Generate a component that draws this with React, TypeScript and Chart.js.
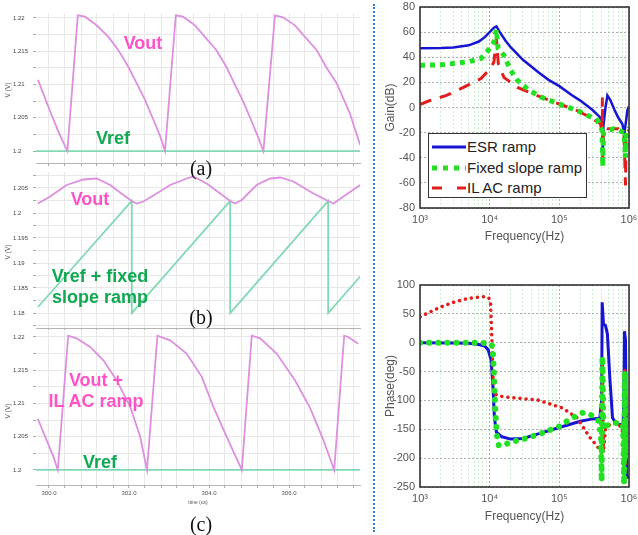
import React, { useEffect, useRef } from 'react';
import { Chart, registerables } from 'chart.js';

Chart.register(...registerables);

const FONT = "'Liberation Sans', Arial, Helvetica, sans-serif";
Chart.defaults.font.family = FONT;

// ---------------- Left: transient waveforms ----------------
const T_MIN = 299.675;
const T_MAX = 307.775;
const timeTickLabels = ['300.0', '302.0', '304.0', '306.0'];
const aYLabels = ['1.2', '1.205', '1.21', '1.215', '1.22'];
const bYLabels = ['1.18', '1.185', '1.19', '1.195', '1.2', '1.205'];
const cYLabels = ['1.2', '1.205', '1.21', '1.215', '1.22'];

// (a) ESR ramp
const aTime = [299.725, 300.0, 300.25, 300.46, 300.72, 300.9, 301.19, 301.48, 301.73, 301.98, 302.19, 302.4, 302.61, 302.78, 302.9, 303.17, 303.35, 303.65, 303.92, 304.18, 304.43, 304.63, 304.85, 305.05, 305.22, 305.36, 305.65, 305.85, 306.15, 306.42, 306.69, 306.92, 307.19, 307.52, 307.78];
const aVout = [1.2107, 1.2064, 1.2027, 1.2, 1.2204, 1.2202, 1.2189, 1.2172, 1.2152, 1.2127, 1.2102, 1.2077, 1.2047, 1.2022, 1.2, 1.2204, 1.2202, 1.2189, 1.217, 1.2152, 1.2127, 1.2102, 1.2075, 1.2047, 1.2022, 1.2, 1.2204, 1.2201, 1.2189, 1.217, 1.2152, 1.2127, 1.2102, 1.2057, 1.2009];
const aRefTime = [T_MIN, T_MAX];
const aRef = [1.2, 1.2];

// (b) fixed slope ramp
const bTime = [299.72, 300.03, 300.44, 300.86, 301.19, 301.53, 301.86, 302.07, 302.19, 302.36, 302.69, 303.03, 303.44, 303.61, 303.94, 304.28, 304.53, 304.65, 304.82, 305.19, 305.53, 305.78, 306.11, 306.61, 306.98, 307.11, 307.36, 307.78];
const bVout = [1.2019, 1.2033, 1.2056, 1.2067, 1.2069, 1.2056, 1.2036, 1.2024, 1.2019, 1.2023, 1.2039, 1.2056, 1.2069, 1.2073, 1.2059, 1.2039, 1.2024, 1.2019, 1.2026, 1.2056, 1.2069, 1.2071, 1.2063, 1.2039, 1.2024, 1.2019, 1.2033, 1.2056];
const bRampTime = [299.725, 302.07, 302.07, 304.53, 304.53, 306.98, 306.98, 307.78];
const bRamp = [1.1812, 1.2024, 1.18, 1.2024, 1.18, 1.2024, 1.18, 1.1873];

// (c) IL AC ramp
const cTime = [299.72, 299.94, 300.11, 300.22, 300.48, 300.69, 301.03, 301.36, 301.69, 302.03, 302.28, 302.45, 302.71, 303.03, 303.44, 303.82, 304.11, 304.44, 304.82, 305.07, 305.28, 305.69, 306.15, 306.53, 306.86, 307.13, 307.38, 307.48, 307.73];
const cVout = [1.2077, 1.2045, 1.202, 1.2, 1.2202, 1.2198, 1.2185, 1.2165, 1.2135, 1.2095, 1.205, 1.2, 1.2202, 1.2195, 1.2175, 1.214, 1.2095, 1.205, 1.2, 1.2202, 1.2198, 1.2175, 1.2135, 1.2093, 1.2045, 1.2, 1.2202, 1.22, 1.219];
const cRefTime = [T_MIN, T_MAX];
const cRef = [1.2, 1.2];

// ---------------- Right: Bode plots ----------------
const freqGrid = [1e3, 2e3, 3e3, 4e3, 5e3, 6e3, 7e3, 8e3, 9e3, 1e4, 2e4, 3e4, 4e4, 5e4, 6e4, 7e4, 8e4, 9e4, 1e5, 2e5, 3e5, 4e5, 5e5, 6e5, 7e5, 8e5, 9e5, 1e6];
const freqLabels: Record<string, string> = { '1000': '10³', '10000': '10⁴', '100000': '10⁵', '1000000': '10⁶' };
const seriesNames = ['ESR ramp', 'Fixed slope ramp', 'IL AC ramp'];

const esrGainF = [1e3, 2e3, 3e3, 5e3, 7e3, 8.5e3, 1e4, 1.15e4, 1.25e4, 1.4e4, 1.7e4, 2e4, 3e4, 5e4, 7e4, 1e5, 1.5e5, 2e5, 3e5, 3.8e5, 4.1e5, 4.2e5, 4.3e5, 4.6e5, 4.9e5, 5.4e5, 6.2e5, 7e5, 8e5, 8.6e5, 8.9e5, 9.5e5, 1e6];
const esrGainDb = [47.2, 47.4, 47.8, 49.5, 52.5, 56, 60, 63.5, 64.5, 60, 53, 48, 38, 28, 22, 17, 10, 5.5, -2, -7.5, -11, -35, -14, 0, 9.6, 6, -2, -8, -13, -20, -14, -2, 1];
const fixedGainF = [1e3, 2e3, 3e3, 5e3, 7.5e3, 9.7e3, 1.15e4, 1.25e4, 1.32e4, 1.6e4, 2e4, 2.5e4, 3.7e4, 5.6e4, 8.7e4, 1.8e5, 3.5e5, 4.1e5, 4.2e5, 4.3e5, 5e5, 6e5, 7e5, 8.5e5, 8.9e5, 9.2e5, 1e6];
const fixedGainDb = [33.6, 34, 35, 36.5, 39, 46, 52, 62, 47, 41.6, 29.6, 21.6, 13.6, 8, 4, -2.4, -10, -18, -47, -20, -18, -17, -18, -20, -40, -20, -16];
const ilGainF = [1e3, 1.4e3, 2.4e3, 4.2e3, 7.5e3, 9.7e3, 1.15e4, 1.25e4, 1.33e4, 1.6e4, 2.5e4, 4.7e4, 8.7e4, 1.8e5, 2.8e5, 3.9e5, 4.1e5, 4.15e5, 4.2e5, 4.3e5, 5e5, 6e5, 7e5, 8.5e5, 8.9e5, 9.1e5, 1e6];
const ilGainDb = [2.4, 5.6, 9.6, 16, 23, 29.6, 36, 55, 35, 24, 16, 9.6, 4, -2.4, -8, -13, -20, 8, -40, -15, -17, -17, -17, -20, -62, -20, -18];

const esrPhaseF = [1e3, 3e3, 5e3, 7e3, 8.5e3, 9.5e3, 1.05e4, 1.12e4, 1.17e4, 1.25e4, 1.5e4, 2e4, 3e4, 5e4, 1e5, 2e5, 3e5, 3.8e5, 4.05e5, 4.12e5, 4.3e5, 4.6e5, 4.9e5, 5.3e5, 5.8e5, 6.5e5, 7.5e5, 8.2e5, 8.45e5, 8.6e5, 8.9e5, 9.3e5, 1e6];
const esrPhase = [0, -0.5, -1, -3, -6, -12, -30, -80, -130, -155, -163, -167, -166, -158, -147, -136, -132, -131, -100, 70, 32, 30, 15, -60, -130, -140, -142, -145, -100, 20, 5, -230, -235];
const fixedPhaseF = [1e3, 3e3, 7e3, 1e4, 1.1e4, 1.15e4, 1.2e4, 1.27e4, 1.35e4, 1.6e4, 2.2e4, 3.5e4, 5.8e4, 1e5, 1.4e5, 2.2e5, 3e5, 3.6e5, 3.95e5, 4.05e5, 4.15e5, 4.3e5, 4.6e5, 5.5e5, 6.5e5, 7.5e5, 8.2e5, 8.5e5, 8.7e5, 8.9e5, 9.2e5, 1e6];
const fixedPhase = [0, 0, 0, -1, -6, -50, -115, -160, -178, -177, -171, -165, -156, -145, -133, -121, -126, -135, -160, -240, -24, -150, -145, -140, -139, -140, -142, -245, -50, -200, -140, -140];
const ilPhaseF = [1e3, 1.5e3, 2e3, 3e3, 4e3, 5e3, 7e3, 8.5e3, 9.7e3, 1.03e4, 1.08e4, 1.12e4, 1.17e4, 1.3e4, 2e4, 4.8e4, 1.1e5, 1.8e5, 2.7e5, 3.8e5, 4.05e5, 4.15e5, 4.3e5, 4.6e5, 5.5e5, 7e5, 8e5, 8.5e5, 8.7e5, 8.9e5, 9.3e5, 1e6];
const ilPhase = [45, 55, 62, 70, 74, 77, 79, 80, 78, 70, 0, -60, -88, -92, -95, -99, -113, -130, -163, -185, -190, -25, -190, -150, -140, -140, -150, -217, -45, -210, -140, -140];

// ---------------- styles ----------------
const VOUT_COLOR = '#dd8fe0';
const VREF_COLOR = '#80d9b2';
const BLUE = '#1616d2';
const GREEN = '#22e022';
const RED = '#e31c1c';
const PINK_TEXT = '#ff52c6';
const GREEN_TEXT = '#12a852';

const pts = (xs: number[], ys: number[]) => xs.map((x, i) => ({ x, y: ys[i] }));

const noPlugins = { legend: { display: false }, tooltip: { enabled: false } };

function timeConfig(o: {
  vout: { x: number; y: number }[];
  ref: { x: number; y: number }[];
  yMin: number; yMax: number; yLabels: string[];
  padTop: number; padBottom: number; xAxisH: number; showX: boolean;
}): any {
  return {
    type: 'line',
    data: {
      datasets: [
        { data: o.vout, borderColor: VOUT_COLOR, borderWidth: 1.8, pointRadius: 0, tension: 0, order: 0 },
        { data: o.ref, borderColor: VREF_COLOR, borderWidth: 1.8, pointRadius: 0, tension: 0, order: 1 },
      ],
    },
    options: {
      animation: false,
      responsive: false,
      devicePixelRatio: 1,
      events: [],
      layout: { padding: { left: 13, right: 8, top: o.padTop, bottom: o.padBottom } },
      plugins: noPlugins,
      scales: {
        x: {
          type: 'linear',
          min: T_MIN,
          max: T_MAX,
          grid: { color: '#e8e8e8', lineWidth: 1, drawTicks: true, tickLength: 3, tickColor: '#aaaaaa' },
          border: { display: true, color: '#b5b5b5', width: 1 },
          ticks: {
            display: o.showX,
            stepSize: 0.4,
            autoSkip: false,
            includeBounds: false,
            maxRotation: 0,
            padding: 2,
            color: '#555',
            font: { size: 6, family: FONT },
            callback: (v: number) => {
              const s = Number(v).toFixed(1);
              return timeTickLabels.includes(s) ? s : '';
            },
          },
          title: { display: o.showX, text: 'time (us)', color: '#555', font: { size: 5, family: FONT }, padding: 0 },
          afterFit: (s: any) => { s.height = o.xAxisH; s.paddingLeft = 0; s.paddingRight = 0; },
        },
        y: {
          min: o.yMin,
          max: o.yMax,
          grid: { color: '#e8e8e8', lineWidth: 1, drawTicks: true, tickLength: 3, tickColor: '#aaaaaa' },
          border: { display: false },
          ticks: {
            stepSize: 0.0025,
            autoSkip: false,
            includeBounds: false,
            crossAlign: 'far',
            color: '#444',
            font: { size: 6, family: FONT },
            callback: (v: number) => {
              const s = String(parseFloat(Number(v).toFixed(4)));
              return o.yLabels.includes(s) ? s : '';
            },
          },
          afterFit: (s: any) => { s.width = 23; s.paddingTop = 0; s.paddingBottom = 0; },
        },
      },
    },
  };
}

const framePlugin = {
  id: 'frame',
  afterDatasetsDraw(chart: any) {
    const { ctx, chartArea } = chart;
    const { left, top, right, bottom } = chartArea;
    ctx.save();
    ctx.strokeStyle = '#333';
    ctx.lineWidth = 1.6;
    ctx.strokeRect(left, top, right - left, bottom - top);
    ctx.restore();
  },
};

const isDecade = (v: number) => Math.abs(Math.log10(v) - Math.round(Math.log10(v))) < 1e-9;

function bodeConfig(o: {
  datasets: any[]; yMin: number; yMax: number; yStep: number; yTitle: string;
  padTop: number; padBottom: number; xAxisH: number;
}): any {
  return {
    type: 'line',
    data: { datasets: o.datasets },
    plugins: [framePlugin],
    options: {
      animation: false,
      responsive: false,
      devicePixelRatio: 1,
      events: [],
      layout: { padding: { left: 0, right: 9, top: o.padTop, bottom: o.padBottom } },
      plugins: noPlugins,
      scales: {
        x: {
          type: 'logarithmic',
          min: 1e3,
          max: 1e6,
          afterBuildTicks: (s: any) => { s.ticks = freqGrid.map((v) => ({ value: v, major: isDecade(v) })); },
          grid: {
            color: (ctx: any) => (ctx.tick && isDecade(ctx.tick.value) ? '#b0b0b0' : '#cfeecf'),
            lineWidth: 1,
            drawTicks: false,
          },
          border: { display: false, dash: [2, 2] },
          ticks: {
            autoSkip: false,
            maxRotation: 0,
            padding: 5,
            color: '#555',
            font: { size: 11, family: FONT },
            callback: (v: number) => freqLabels[String(Math.round(Number(v)))] || '',
          },
          title: { display: true, text: 'Frequency(Hz)', color: '#555', font: { size: 12, family: FONT }, padding: 0 },
          afterFit: (s: any) => { s.height = o.xAxisH; s.paddingLeft = 0; s.paddingRight = 0; },
        },
        y: {
          min: o.yMin,
          max: o.yMax,
          grid: { color: '#b0b0b0', lineWidth: 1, drawTicks: false },
          border: { display: false, dash: [2, 2] },
          ticks: {
            stepSize: o.yStep,
            autoSkip: false,
            padding: 5,
            color: '#555',
            font: { size: 11, family: FONT },
          },
          title: { display: true, text: o.yTitle, color: '#555', font: { size: 12, family: FONT }, padding: 0 },
          afterFit: (s: any) => { s.width = 37; s.paddingTop = 0; s.paddingBottom = 0; },
        },
      },
    },
  };
}

function ChartCanvas(props: { left: number; top: number; width: number; height: number; make: () => any }) {
  const ref = useRef<HTMLCanvasElement | null>(null);
  useEffect(() => {
    const chart = new Chart(ref.current as HTMLCanvasElement, props.make());
    return () => chart.destroy();
  }, []);
  return (
    <canvas
      ref={ref}
      width={props.width}
      height={props.height}
      style={{ position: 'absolute', left: props.left, top: props.top, width: props.width, height: props.height }}
    />
  );
}

function Label(props: { x: number; y: number; color: string; size: number; lh?: number; bold?: boolean; serif?: boolean; rotate?: boolean; children: any }) {
  return (
    <div
      style={{
        position: 'absolute',
        left: props.x,
        top: props.y,
        transform: `translate(-50%, -50%)${props.rotate ? ' rotate(-90deg)' : ''}`,
        color: props.color,
        fontSize: props.size,
        lineHeight: `${props.lh || props.size}px`,
        fontWeight: props.bold ? 700 : 400,
        fontFamily: props.serif ? "'Liberation Serif', 'Times New Roman', serif" : FONT,
        whiteSpace: 'nowrap',
        textAlign: 'center',
      }}
    >
      {props.children}
    </div>
  );
}

export default function App() {
  const makeA = () =>
    timeConfig({ vout: pts(aTime, aVout), ref: pts(aRefTime, aRef), yMin: 1.1982, yMax: 1.22075, yLabels: aYLabels, padTop: 13, padBottom: 2, xAxisH: 5, showX: false });
  const makeB = () =>
    timeConfig({ vout: pts(bTime, bVout), ref: pts(bRampTime, bRamp), yMin: 1.177, yMax: 1.2082, yLabels: bYLabels, padTop: 2, padBottom: 0, xAxisH: 2, showX: false });
  const makeC = () =>
    timeConfig({ vout: pts(cTime, cVout), ref: pts(cRefTime, cRef), yMin: 1.19774, yMax: 1.2209, yLabels: cYLabels, padTop: 1, padBottom: 2, xAxisH: 21, showX: true });

  const makeGain = () =>
    bodeConfig({
      datasets: [
        { label: seriesNames[1], data: pts(fixedGainF, fixedGainDb), borderColor: GREEN, borderWidth: 5, borderDash: [5, 5], pointRadius: 0, order: 0 },
        { label: seriesNames[2], data: pts(ilGainF, ilGainDb), borderColor: RED, borderWidth: 3, borderDash: [12, 9], pointRadius: 0, order: 1 },
        { label: seriesNames[0], data: pts(esrGainF, esrGainDb), borderColor: BLUE, borderWidth: 2.5, pointRadius: 0, order: 2 },
      ],
      yMin: -80, yMax: 80, yStep: 20, yTitle: 'Gain(dB)', padTop: 7, padBottom: 1, xAxisH: 36,
    });
  const makePhase = () =>
    bodeConfig({
      datasets: [
        { label: seriesNames[1], data: pts(fixedPhaseF, fixedPhase), borderColor: GREEN, borderWidth: 6, borderDash: [0.1, 9], borderCapStyle: 'round', pointRadius: 0, order: 0 },
        { label: seriesNames[2], data: pts(ilPhaseF, ilPhase), borderColor: RED, borderWidth: 3.5, borderDash: [0.1, 6], borderCapStyle: 'round', pointRadius: 0, order: 1 },
        { label: seriesNames[0], data: pts(esrPhaseF, esrPhase), borderColor: BLUE, borderWidth: 3, pointRadius: 0, order: 2 },
      ],
      yMin: -250, yMax: 100, yStep: 50, yTitle: 'Phase(deg)', padTop: 15, padBottom: 11, xAxisH: 37,
    });

  const legendRows = [
    { name: seriesNames[0], color: BLUE, width: 3, dash: '', cap: 'butt' },
    { name: seriesNames[1], color: GREEN, width: 5, dash: '5 6', cap: 'butt' },
    { name: seriesNames[2], color: RED, width: 3, dash: '10 15', cap: 'butt' },
  ];

  return (
    <div style={{ position: 'absolute', left: 0, top: 0, width: 638, height: 535, background: '#fff', overflow: 'hidden', fontFamily: FONT }}>
      <ChartCanvas left={0} top={0} width={368} height={170} make={makeA} />
      <ChartCanvas left={0} top={170} width={368} height={160} make={makeB} />
      <ChartCanvas left={0} top={330} width={368} height={178} make={makeC} />

      <Label x={8} y={90} color="#555" size={6.5} rotate>V (V)</Label>
      <Label x={8} y={252} color="#555" size={6.5} rotate>V (V)</Label>
      <Label x={8} y={411} color="#555" size={6.5} rotate>V (V)</Label>

      <Label x={143} y={43} color={PINK_TEXT} size={18} bold>Vout</Label>
      <Label x={113} y={138} color={GREEN_TEXT} size={18} bold>Vref</Label>
      <Label x={90} y={199} color={PINK_TEXT} size={18} bold>Vout</Label>
      <Label x={100} y={286.5} color={GREEN_TEXT} size={18} lh={21} bold>Vref + fixed<br />slope ramp</Label>
      <Label x={96} y={391} color={PINK_TEXT} size={18} lh={21} bold>Vout +<br />IL AC ramp</Label>
      <Label x={100} y={461.5} color={GREEN_TEXT} size={18} bold>Vref</Label>

      <Label x={201} y={168} color="#111" size={20} serif>(a)</Label>
      <Label x={201} y={317} color="#111" size={20} serif>(b)</Label>
      <Label x={201} y={524} color="#111" size={20} serif>(c)</Label>

      <div style={{ position: 'absolute', left: 373, top: 4, height: 528, borderLeft: '2px dotted #2f7fd0' }} />

      <ChartCanvas left={383} top={0} width={255} height={245} make={makeGain} />
      <ChartCanvas left={383} top={270} width={255} height={265} make={makePhase} />

      <div
        style={{
          position: 'absolute', left: 428, top: 133, width: 159, height: 65, boxSizing: 'border-box',
          border: '1.6px solid #333', background: '#fff',
        }}
      >
        {legendRows.map((r, i) => (
          <div key={r.name} style={{ position: 'absolute', left: 0, top: 13 + i * 20.5, width: '100%', height: 0 }}>
            <svg width={36} height={8} style={{ position: 'absolute', left: 3, top: -4 }}>
              <line x1={0} y1={4} x2={34} y2={4} stroke={r.color} strokeWidth={r.width} strokeDasharray={r.dash || undefined} strokeLinecap={r.cap as any} />
            </svg>
            <div style={{ position: 'absolute', left: 38, top: -9, fontSize: 15, lineHeight: '18px', color: '#222', whiteSpace: 'nowrap' }}>
              {r.name}
            </div>
          </div>
        ))}
      </div>
    </div>
  );
}
